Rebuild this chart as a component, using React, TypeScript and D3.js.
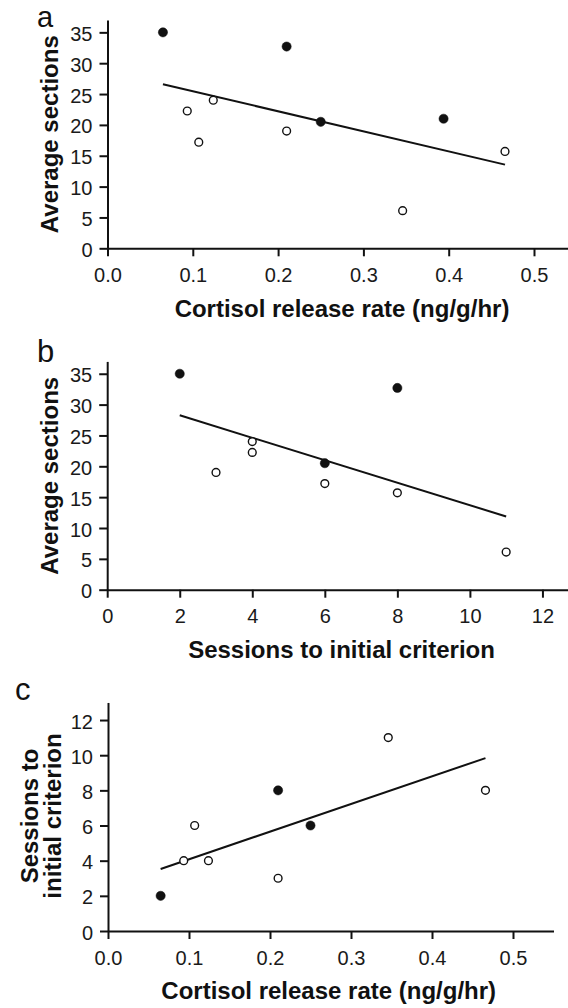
import React, { useEffect, useRef } from "react";
import * as d3 from "d3";

// Shared subjects (9 animals): cortisol release rate, sessions to criterion, average sections
const cortisol = [0.065, 0.21, 0.25, 0.0935, 0.107, 0.124, 0.21, 0.346, 0.466];
const sessions = [2, 8, 6, 4, 6, 4, 3, 11, 8];
const sections = [35, 32.7, 20.5, 22.25, 17.2, 24, 19, 6.1, 15.7];
const filledFlags = [true, true, true, false, false, false, false, false, false];

// Extra subject shown only in panel a (no sessions value)
const extraCortisol = [0.394];
const extraSections = [21];
const extraFilled = [true];

const sectionTicks = [0, 5, 10, 15, 20, 25, 30, 35];
const cortisolTicks = [0, 0.1, 0.2, 0.3, 0.4, 0.5];
const sessionTicks = [0, 2, 4, 6, 8, 10, 12];

const panelLetters = ["a", "b", "c"];
const xTitles = [
  "Cortisol release rate (ng/g/hr)",
  "Sessions to initial criterion",
  "Cortisol release rate (ng/g/hr)",
];
const yTitles = [["Average sections"], ["Average sections"], ["Sessions to", "initial criterion"]];

type Pt = { x: number; y: number; filled: boolean };

function fit(pts: Pt[]) {
  const mx = d3.mean(pts, (p) => p.x)!;
  const my = d3.mean(pts, (p) => p.y)!;
  const sxy = d3.sum(pts, (p) => (p.x - mx) * (p.y - my));
  const sxx = d3.sum(pts, (p) => (p.x - mx) * (p.x - mx));
  const b = sxy / sxx;
  const a = my - b * mx;
  return (x: number) => a + b * x;
}

export default function App() {
  const ref = useRef<SVGSVGElement>(null);

  useEffect(() => {
    const svg = d3.select(ref.current);
    svg.selectAll("*").remove();
    const FONT = "'Liberation Sans', Arial, Helvetica, sans-serif";
    const INK = "#111";

    const ptsA: Pt[] = cortisol
      .map((c, i) => ({ x: c, y: sections[i], filled: filledFlags[i] }))
      .concat(extraCortisol.map((c, i) => ({ x: c, y: extraSections[i], filled: extraFilled[i] })));
    const ptsB: Pt[] = sessions.map((s, i) => ({ x: s, y: sections[i], filled: filledFlags[i] }));
    const ptsC: Pt[] = cortisol.map((c, i) => ({ x: c, y: sessions[i], filled: filledFlags[i] }));

    const panels = [
      {
        pts: ptsA,
        x: d3.scaleLinear().domain([0, 0.55]).range([107.5, 107.5 + 0.55 * 853]),
        y: d3.scaleLinear().domain([0, 37]).range([248.3, 248.3 - 37 * 6.17]),
        xTicks: cortisolTicks,
        yTicks: sectionTicks,
        xFmt: d3.format(".1f"),
        letterPos: [37, 27],
        letterSize: 29,
        xTitlePos: [342, 316.5],
        yTitleX: [58],
        yTitleCY: 134.2,
      },
      {
        pts: ptsB,
        x: d3.scaleLinear().domain([0, 13]).range([107.2, 107.2 + 13 * 36.27]),
        y: d3.scaleLinear().domain([0, 37]).range([589.7, 589.7 - 37 * 6.17]),
        xTicks: sessionTicks,
        yTicks: sectionTicks,
        xFmt: d3.format("d"),
        letterPos: [37, 362],
        letterSize: 31,
        xTitlePos: [341.5, 658],
        yTitleX: [58],
        yTitleCY: 475.8,
      },
      {
        pts: ptsC,
        x: d3.scaleLinear().domain([0, 0.55]).range([108, 108 + 0.55 * 810]),
        y: d3.scaleLinear().domain([0, 13]).range([931, 931 - 13 * 17.58]),
        xTicks: cortisolTicks,
        yTicks: sessionTicks,
        xFmt: d3.format(".1f"),
        letterPos: [15, 700],
        letterSize: 31,
        xTitlePos: [328.7, 999],
        yTitleX: [37.5, 60.5],
        yTitleCY: 816,
      },
    ];

    panels.forEach((p, pi) => {
      const g = svg.append("g");
      const [x0] = p.x.range();
      const [y0] = p.y.range();

      // x axis
      const xa = g
        .append("g")
        .attr("transform", `translate(0,${y0})`)
        .call(
          d3
            .axisBottom(p.x)
            .tickValues(p.xTicks)
            .tickFormat(p.xFmt as any)
            .tickSize(8)
            .tickSizeOuter(0)
            .tickPadding(11.5)
        );
      // y axis
      const ya = g
        .append("g")
        .attr("transform", `translate(${x0},0)`)
        .call(
          d3
            .axisLeft(p.y)
            .tickValues(p.yTicks)
            .tickFormat(d3.format("d") as any)
            .tickSize(8)
            .tickSizeOuter(0)
            .tickPadding(7)
        );
      [xa, ya].forEach((ax) => {
        ax.selectAll("path.domain").attr("stroke", INK).attr("stroke-width", 2);
        ax.selectAll("line").attr("stroke", INK).attr("stroke-width", 2);
        ax.selectAll("text")
          .attr("fill", "#1a1a1a")
          .attr("font-family", FONT)
          .attr("font-size", 20);
      });
      ya.selectAll("text").attr("dy", "0.4em");

      // regression line
      const f = fit(p.pts);
      const [minX, maxX] = d3.extent(p.pts, (d) => d.x) as [number, number];
      g.append("path")
        .attr(
          "d",
          d3.line<number>().x((v) => p.x(v)).y((v) => p.y(f(v)))([minX, maxX])
        )
        .attr("stroke", INK)
        .attr("stroke-width", 2)
        .attr("fill", "none");

      // points
      g.selectAll("circle")
        .data(p.pts)
        .join("circle")
        .attr("cx", (d) => p.x(d.x))
        .attr("cy", (d) => p.y(d.y))
        .attr("r", (d) => (d.filled ? 4.6 : 3.9))
        .attr("fill", (d) => (d.filled ? INK : "#fff"))
        .attr("stroke", INK)
        .attr("stroke-width", (d) => (d.filled ? 0.5 : 1.4));

      // panel letter
      g.append("text")
        .attr("x", p.letterPos[0])
        .attr("y", p.letterPos[1])
        .attr("font-family", FONT)
        .attr("font-size", p.letterSize)
        .attr("fill", INK)
        .text(panelLetters[pi]);

      // x title
      g.append("text")
        .attr("x", p.xTitlePos[0])
        .attr("y", p.xTitlePos[1])
        .attr("text-anchor", "middle")
        .attr("font-family", FONT)
        .attr("font-weight", "bold")
        .attr("font-size", 24)
        .attr("fill", INK)
        .text(xTitles[pi]);

      // y title (rotated)
      yTitles[pi].forEach((line, li) => {
        g.append("text")
          .attr("transform", `translate(${p.yTitleX[li]},${p.yTitleCY}) rotate(-90)`)
          .attr("text-anchor", "middle")
          .attr("font-family", FONT)
          .attr("font-weight", "bold")
          .attr("font-size", 24)
          .attr("fill", INK)
          .text(line);
      });
    });
  }, []);

  return (
    <svg
      ref={ref}
      width={568}
      height={1008}
      style={{ position: "absolute", left: 0, top: 0, background: "#fff" }}
    />
  );
}
